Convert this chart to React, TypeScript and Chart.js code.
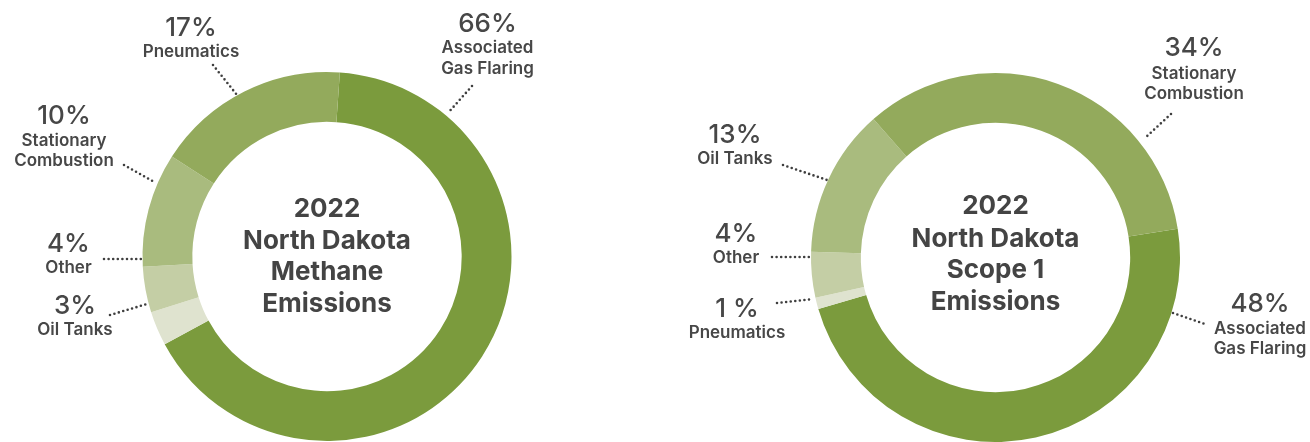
import React, { useEffect, useRef } from "react";
import { Chart, registerables } from "chart.js";

Chart.register(...registerables);

// ---------- DATA ----------
const methaneCategories = ["Associated Gas Flaring", "Oil Tanks", "Other", "Stationary Combustion", "Pneumatics"];
const methaneValues = [66, 3, 4, 10, 17];
const methanePercentLabels = ["66%", "3%", "4%", "10%", "17%"];
const methaneTitle = ["2022", "North Dakota", "Methane", "Emissions"];

const scope1Categories = ["Associated Gas Flaring", "Pneumatics", "Other", "Oil Tanks", "Stationary Combustion"];
const scope1Values = [48, 1, 4, 13, 34];
const scope1PercentLabels = ["48%", "1 %", "4%", "13%", "34%"];
const scope1Title = ["2022", "North Dakota", "Scope 1", "Emissions"];

// category name line breaks for the labels
const categoryLines: Record<string, string[]> = {
  "Associated Gas Flaring": ["Associated", "Gas Flaring"],
  "Stationary Combustion": ["Stationary", "Combustion"],
  "Oil Tanks": ["Oil Tanks"],
  Other: ["Other"],
  Pneumatics: ["Pneumatics"],
};

// ---------- STYLE ----------
const methaneColorMap: Record<string, string> = {
  "Associated Gas Flaring": "#7b9b3d",
  Pneumatics: "#93aa5c",
  "Stationary Combustion": "#a9bb7e",
  Other: "#c4cea5",
  "Oil Tanks": "#dfe3cf",
};
const scope1ColorMap: Record<string, string> = {
  "Associated Gas Flaring": "#7b9b3d",
  "Stationary Combustion": "#93aa5c",
  "Oil Tanks": "#a9bb7e",
  Other: "#c4cea5",
  Pneumatics: "#dfe3cf",
};

const FONT = "Inter, 'Noto Sans', 'DejaVu Sans', sans-serif";
const TEXT = "#474747";
const CANVAS_W = 655;
const CANVAS_H = 442;

type LabelLayout = { cx: number; pctY: number; lineY: number[]; leader: [number, number, number, number] };

// label annotation layout (canvas-local coordinates), in data order
const methaneLayout: LabelLayout[] = [
  { cx: 487.5, pctY: 32, lineY: [53, 74], leader: [472, 86, 448, 113] },
  { cx: 75, pctY: 314, lineY: [335], leader: [110, 315, 147, 304] },
  { cx: 68.5, pctY: 252, lineY: [273], leader: [104, 259, 141, 259] },
  { cx: 64, pctY: 124, lineY: [146, 166], leader: [124, 165, 156, 183] },
  { cx: 191, pctY: 36, lineY: [57], leader: [213, 65, 237, 95] },
];
const methaneTitleY = [217, 248.5, 280, 312];

const RX = 655;
const scope1Layout: LabelLayout[] = [
  { cx: 1260 - RX, pctY: 312, lineY: [334, 354], leader: [1173 - RX, 313, 1205 - RX, 324] },
  { cx: 737 - RX, pctY: 317, lineY: [338], leader: [777 - RX, 303, 813 - RX, 299] },
  { cx: 736 - RX, pctY: 242, lineY: [263], leader: [772 - RX, 257, 810 - RX, 257] },
  { cx: 735 - RX, pctY: 143, lineY: [164], leader: [783 - RX, 165, 827 - RX, 180] },
  { cx: 1194 - RX, pctY: 56, lineY: [79, 99], leader: [1171 - RX, 114, 1145 - RX, 138] },
];
const scope1TitleY = [214, 246.5, 278, 310];

type DonutSpec = {
  categories: string[];
  values: number[];
  pctLabels: string[];
  title: string[];
  colors: string[];
  layout: LabelLayout[];
  titleY: number[];
  rotation: number;
  padding: { left: number; right: number; top: number; bottom: number };
};

const specs: DonutSpec[] = [
  {
    categories: methaneCategories,
    values: methaneValues,
    pctLabels: methanePercentLabels,
    title: methaneTitle,
    colors: methaneCategories.map((c) => methaneColorMap[c]),
    layout: methaneLayout,
    titleY: methaneTitleY,
    rotation: 4,
    padding: { left: 142.5, right: 143.5, top: 72, bottom: 1 },
  },
  {
    categories: scope1Categories,
    values: scope1Values,
    pctLabels: scope1PercentLabels,
    title: scope1Title,
    colors: scope1Categories.map((c) => scope1ColorMap[c]),
    layout: scope1Layout,
    titleY: scope1TitleY,
    rotation: 81,
    padding: { left: 156, right: 130, top: 73, bottom: 0 },
  },
];

function makeLabelPlugin(spec: DonutSpec) {
  return {
    id: "donutLabels",
    afterDraw(chart: any) {
      const ctx: CanvasRenderingContext2D = chart.ctx;
      const meta = chart.getDatasetMeta(0);
      const arc = meta.data[0];
      const cx = arc ? arc.x : 0;
      ctx.save();
      // centre title
      ctx.fillStyle = "#444444";
      ctx.textAlign = "center";
      ctx.textBaseline = "alphabetic";
      ctx.font = `700 26px ${FONT}`;
      spec.title.forEach((line, i) => ctx.fillText(line, cx, spec.titleY[i]));
      // labels + leaders
      spec.categories.forEach((cat, i) => {
        const l = spec.layout[i];
        ctx.fillStyle = TEXT;
        ctx.font = `500 26px ${FONT}`;
        ctx.fillText(spec.pctLabels[i], l.cx, l.pctY);
        ctx.font = `600 17px ${FONT}`;
        categoryLines[cat].forEach((t, j) => ctx.fillText(t, l.cx, l.lineY[j]));
        ctx.beginPath();
        ctx.strokeStyle = "#3f3f3f";
        ctx.lineWidth = 2.6;
        ctx.lineCap = "round";
        ctx.setLineDash([0, 4.6]);
        ctx.moveTo(l.leader[0], l.leader[1]);
        ctx.lineTo(l.leader[2], l.leader[3]);
        ctx.stroke();
        ctx.setLineDash([]);
      });
      ctx.restore();
    },
  };
}

function Donut({ spec, left }: { spec: DonutSpec; left: number }) {
  const ref = useRef<HTMLCanvasElement | null>(null);
  useEffect(() => {
    if (!ref.current) return;
    const chart = new Chart(ref.current, {
      type: "doughnut",
      data: {
        labels: spec.categories,
        datasets: [
          {
            data: spec.values,
            backgroundColor: spec.colors,
            borderWidth: 0,
            hoverOffset: 0,
          },
        ],
      },
      options: {
        responsive: false,
        animation: false,
        devicePixelRatio: 1,
        cutout: "73%",
        rotation: spec.rotation,
        layout: { padding: spec.padding },
        plugins: { legend: { display: false }, tooltip: { enabled: false } },
        events: [],
      },
      plugins: [makeLabelPlugin(spec)],
    } as any);
    return () => chart.destroy();
  }, [spec]);
  return (
    <canvas
      ref={ref}
      width={CANVAS_W}
      height={CANVAS_H}
      style={{ position: "absolute", left, top: 0, width: CANVAS_W, height: CANVAS_H }}
    />
  );
}

export default function App() {
  return (
    <div style={{ position: "fixed", left: 0, top: 0, width: 1310, height: 442, background: "#ffffff", overflow: "hidden" }}>
      <Donut spec={specs[0]} left={0} />
      <Donut spec={specs[1]} left={655} />
    </div>
  );
}
